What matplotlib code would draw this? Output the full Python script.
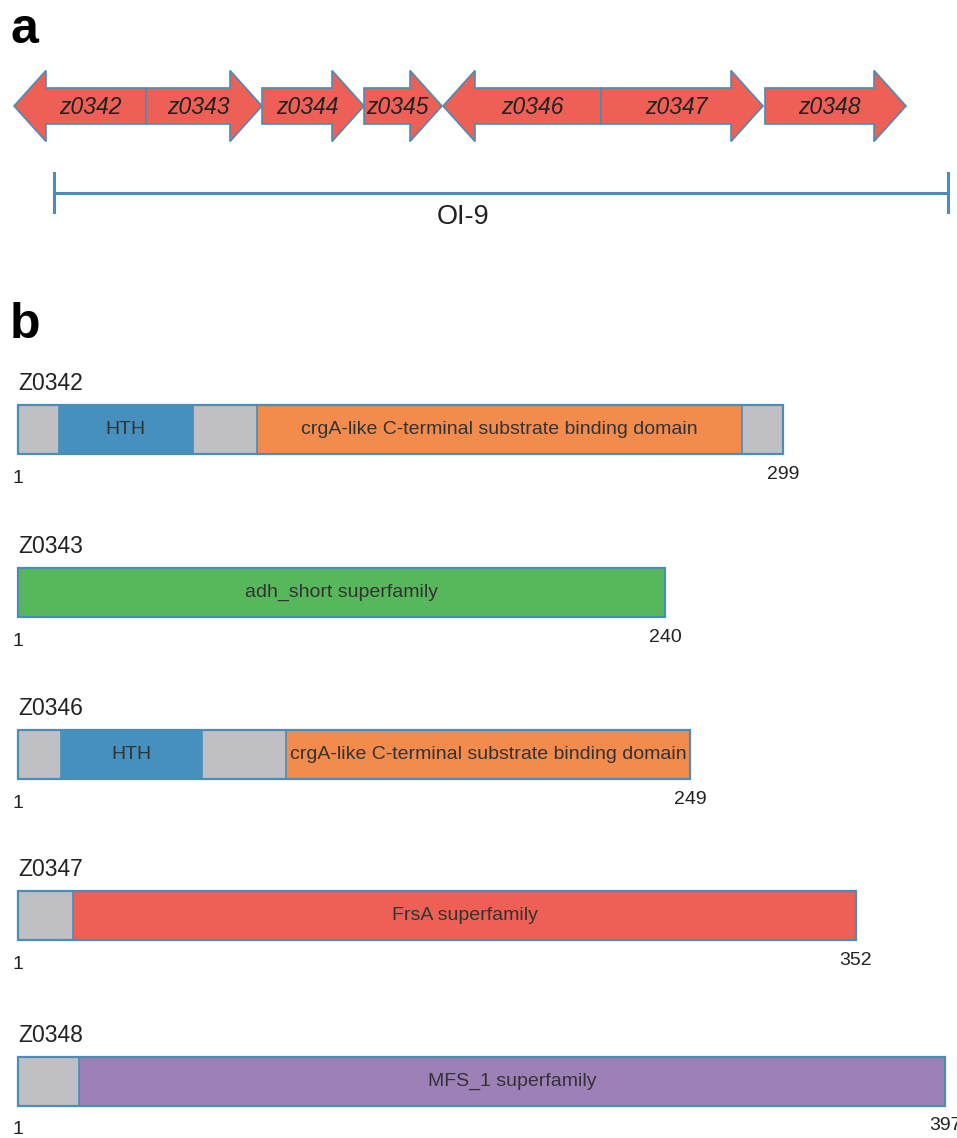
import matplotlib
matplotlib.use('Agg')
import matplotlib.pyplot as plt
from matplotlib.patches import FancyArrow, Rectangle

plt.rcParams['font.family'] = ['Liberation Sans', 'DejaVu Sans']

# panel a: gene map (map units), strand +1 / -1
genes = ['z0342', 'z0343', 'z0344', 'z0345', 'z0346', 'z0347', 'z0348']
gene_start = [14, 146, 262, 364, 443, 601, 765]
gene_end = [146, 262, 364, 442, 601, 763, 906]
gene_strand = [-1, 1, 1, 1, -1, 1, 1]
island_name = 'OI-9'
island_start = 54
island_end = 948

# panel b: proteins, length in aa, domains (start, end, name, colour key)
proteins = ['Z0342', 'Z0343', 'Z0346', 'Z0347', 'Z0348']
lengths = [299, 240, 249, 352, 397]
domains = [
    [(17, 69, 'HTH', 'hth'), (94, 283, 'crgA-like C-terminal substrate binding domain', 'crga')],
    [(1, 240, 'adh_short superfamily', 'adh')],
    [(17, 69, 'HTH', 'hth'), (100, 249, 'crgA-like C-terminal substrate binding domain', 'crga')],
    [(24, 352, 'FrsA superfamily', 'frsa')],
    [(27, 397, 'MFS_1 superfamily', 'mfs')],
]

colors = {'hth': '#4590BE', 'crga': '#F28B4B', 'adh': '#56B85B',
          'frsa': '#EE5F55', 'mfs': '#9E80B8', 'none': '#C0BFC4'}
edge = '#4A8DB7'

# layout (pixels)
bar_left = 18
bar_right = [783, 665, 690, 856, 945]
bar_top = [405, 568, 730, 891, 1057]
bar_h = 49

fig = plt.figure(figsize=(9.57, 11.38), dpi=100)
ax = fig.add_axes([0, 0, 1, 1])
ax.set_xlim(0, 957)
ax.set_ylim(1138, 0)
ax.axis('off')

# ---- panel a
ax.text(10, 30, 'a', fontsize=36, fontweight='bold', va='center', ha='left')
yc = 106
for g, s, e, st in zip(genes, gene_start, gene_end, gene_strand):
    if st > 0:
        x0, dx = s, e - s
    else:
        x0, dx = e, s - e
    arr = FancyArrow(x0, yc, dx, 0, width=36, head_width=71, head_length=32,
                     length_includes_head=True, fc='#EE5F55', ec=edge, lw=1.2)
    ax.add_patch(arr)
    mid = (s + e) / 2
    body_mid = (s + e - st * 32) / 2
    ax.text((mid + body_mid) / 2 + 2, yc + 1, g, fontsize=16.5, style='italic',
            ha='center', va='center', color='#222222')

ax.plot([island_start, island_end], [193, 193], color=edge, lw=2.2)
for xx in (island_start, island_end):
    ax.plot([xx, xx], [173, 212], color=edge, lw=2.2)
ax.text(463, 217, island_name, fontsize=19.5,
        ha='center', va='center', color='#222222')

# ---- panel b
ax.text(10, 325, 'b', fontsize=36, fontweight='bold', va='center', ha='left')


def to_px(res, L, right):
    return bar_left + (res - 1) / (L - 1) * (right - bar_left)


for name, L, doms, right, top in zip(proteins, lengths, domains, bar_right, bar_top):
    ax.text(bar_left, top - 22, name, fontsize=16.5, ha='left', va='center',
            color='#222222')
    ax.add_patch(Rectangle((bar_left, top), right - bar_left, bar_h,
                           fc=colors['none'], ec='none'))
    for ds, de, dname, key in doms:
        x0 = to_px(ds, L, right)
        x1 = to_px(de, L, right)
        ax.add_patch(Rectangle((x0, top), x1 - x0, bar_h, fc=colors[key],
                               ec=edge, lw=1.2))
        ax.text((x0 + x1) / 2, top + bar_h / 2, dname, fontsize=14,
                ha='center', va='center', color='#333333')
    ax.add_patch(Rectangle((bar_left, top), right - bar_left, bar_h,
                           fc='none', ec=edge, lw=1.6))
    ax.text(bar_left, top + bar_h + 24, '1', fontsize=14, ha='center',
            va='center', color='#222222')
    ax.text(right, top + bar_h + 20, str(L), fontsize=14, ha='center',
            va='center', color='#222222')

fig.savefig('out.png', dpi=100)
